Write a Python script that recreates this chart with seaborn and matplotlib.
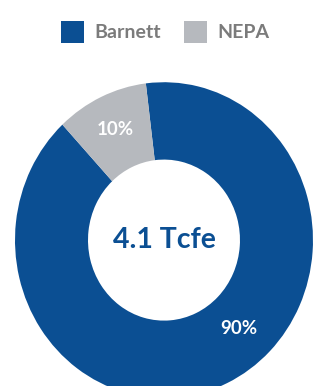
import numpy as np
import matplotlib
matplotlib.use('Agg')
import matplotlib.pyplot as plt
import seaborn as sns

# data
categories = ['Barnett', 'NEPA']
shares = [90, 10]
colors = ['#0b4f93', '#b6b9be']
total_label = '4.1 Tcfe'

sns.set_theme(style='white')
plt.rcParams['font.family'] = ['Lato', 'DejaVu Sans']

fig = plt.figure(figsize=(3.15, 3.86), dpi=100)
# axes placed so the ring sits like in the reference (slightly taller than wide)
ax = fig.add_axes([0.5206 - 0.473, 0.378 - 0.409, 0.946, 0.818])

wedges, texts, autotexts = ax.pie(
    shares, colors=colors, startangle=133, counterclock=True,
    wedgeprops=dict(width=0.49, edgecolor='none'),
    autopct='%d%%', pctdistance=0.77,
    textprops=dict(color='white', fontsize=13.5, fontweight='bold'))
ax.set_aspect('auto')
ax.set_xlim(-1, 1)
ax.set_ylim(-1, 1)

# 90% label sits lower-right in the original, not at the wedge middle
ang = np.deg2rad(-48)
autotexts[0].set_position((0.75 * np.cos(ang), 0.75 * np.sin(ang)))

ax.text(0, 0, total_label, ha='center', va='center', fontsize=20.5,
        fontweight='bold', color='#0b4f93')

leg = fig.legend(wedges, categories, loc='upper center', ncol=2,
                 bbox_to_anchor=(0.525, 0.99), frameon=False, fontsize=14,
                 handlelength=1.15, handleheight=1.3, columnspacing=1.2,
                 handletextpad=0.55)
for t in leg.get_texts():
    t.set_color('#7b7b7b')
    t.set_fontweight('bold')

fig.savefig('out.png', dpi=100)
